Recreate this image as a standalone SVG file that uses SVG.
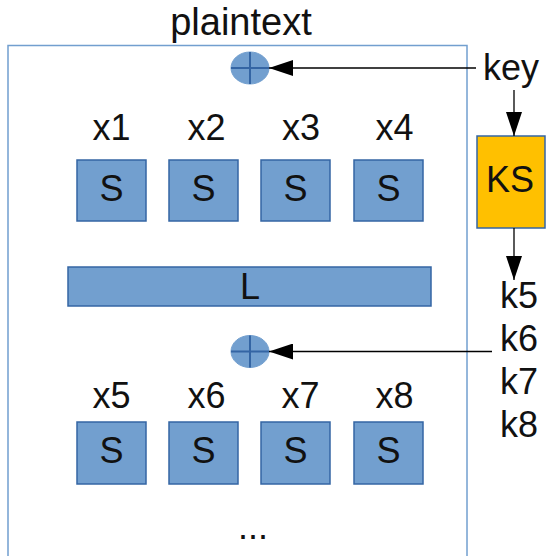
<svg xmlns="http://www.w3.org/2000/svg" width="546" height="556" viewBox="0 0 546 556">
<style>
text{font-family:"Liberation Sans",Arial,sans-serif;font-size:36px;fill:#111}
.m{text-anchor:middle}
.box{fill:#729fcf;stroke:#3465a4;stroke-width:1.5}
.xor{fill:#729fcf;stroke:#729fcf;stroke-width:1}
.cross{stroke:#3465a4;stroke-width:2}
.ln{stroke:#000;stroke-width:1.3;fill:none}
</style>
<defs>
<marker id="ah" markerWidth="24" markerHeight="16" refX="24" refY="8" orient="auto" markerUnits="userSpaceOnUse">
<path d="M0,0 L24,8 L0,16 Z" fill="#000"/>
</marker>
</defs>
<rect x="8" y="45.5" width="459" height="530" fill="none" stroke="#729fcf" stroke-width="1.5"/>
<text class="m" x="241" y="35" style="font-size:38px">plaintext</text>
<g id="xor1"><ellipse class="xor" cx="250" cy="68" rx="19" ry="16"/><line class="cross" x1="250" y1="52" x2="250" y2="84"/><line class="cross" x1="231" y1="68" x2="269" y2="68"/></g>
<g id="xor2"><ellipse class="xor" cx="250" cy="351.5" rx="19" ry="16"/><line class="cross" x1="250" y1="335.5" x2="250" y2="367.5"/><line class="cross" x1="231" y1="351.5" x2="269" y2="351.5"/></g>
<g id="key"><text x="483" y="80">key</text></g>
<g id="ks"><rect x="477" y="136" width="68" height="92" fill="#ffc000" stroke="#3465a4" stroke-width="1.5"/><text class="m" x="510" y="192">KS</text></g>
<g id="klabels"><text x="500" y="308">k5</text><text x="500" y="351">k6</text><text x="500" y="394">k7</text><text x="500" y="437">k8</text></g>
<g id="row1">
<text class="m" x="111.5" y="140">x1</text><text class="m" x="206.5" y="140">x2</text><text class="m" x="301" y="140">x3</text><text class="m" x="394.5" y="140">x4</text>
<g id="s1"><rect class="box" x="77" y="160" width="69" height="61"/><text class="m" x="111.5" y="201">S</text></g>
<g id="s2"><rect class="box" x="169" y="160" width="69" height="61"/><text class="m" x="203.5" y="201">S</text></g>
<g id="s3"><rect class="box" x="261" y="160" width="69" height="61"/><text class="m" x="295.5" y="201">S</text></g>
<g id="s4"><rect class="box" x="354" y="160" width="69" height="61"/><text class="m" x="388.5" y="201">S</text></g>
</g>
<g id="L"><rect class="box" x="68" y="267" width="363" height="39"/><text class="m" x="250" y="299">L</text></g>
<g id="row2">
<text class="m" x="111.5" y="408">x5</text><text class="m" x="206.5" y="408">x6</text><text class="m" x="300.5" y="408">x7</text><text class="m" x="394.5" y="408">x8</text>
<g id="s5"><rect class="box" x="77" y="422" width="69" height="62"/><text class="m" x="111.5" y="463">S</text></g>
<g id="s6"><rect class="box" x="169" y="422" width="69" height="62"/><text class="m" x="203.5" y="463">S</text></g>
<g id="s7"><rect class="box" x="261" y="422" width="69" height="62"/><text class="m" x="295.5" y="463">S</text></g>
<g id="s8"><rect class="box" x="354" y="422" width="69" height="62"/><text class="m" x="388.5" y="463">S</text></g>
</g>
<text class="m" x="253" y="539">...</text>
<g id="connectors">
<line class="ln" x1="476" y1="68" x2="269" y2="68" marker-end="url(#ah)"/>
<line class="ln" x1="514" y1="90" x2="514" y2="136" marker-end="url(#ah)"/>
<line class="ln" x1="514" y1="228" x2="514" y2="280" marker-end="url(#ah)"/>
<line class="ln" x1="492" y1="351.5" x2="269" y2="351.5" marker-end="url(#ah)"/>
</g>
</svg>
